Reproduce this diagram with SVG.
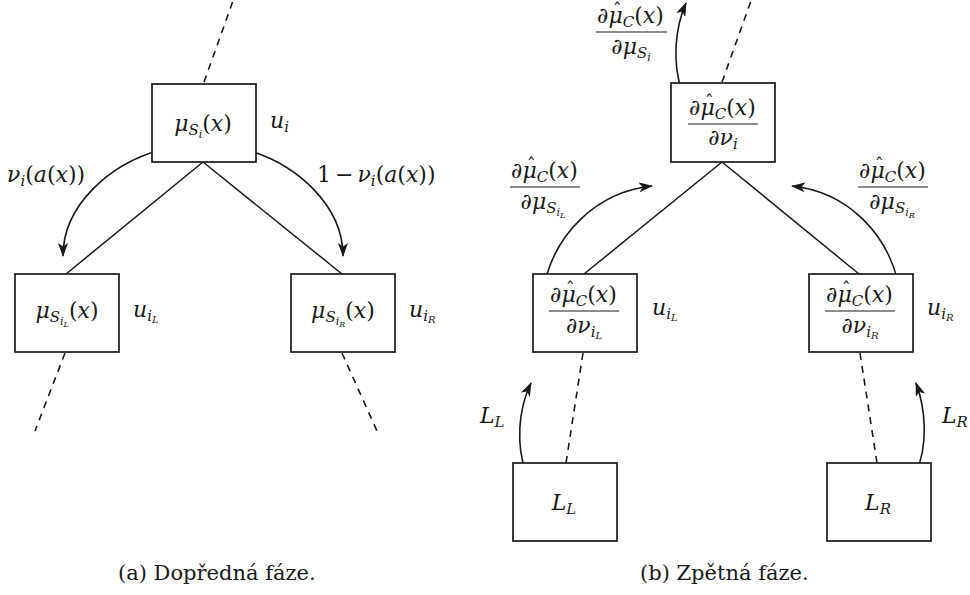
<svg xmlns="http://www.w3.org/2000/svg" width="970" height="595" viewBox="0 0 970 595">
<defs>
<style>
.box{fill:#fff;stroke:#1a1a1a;stroke-width:1.7}
.ln{stroke:#1a1a1a;stroke-width:1.5;fill:none}
.dash{stroke:#1a1a1a;stroke-width:1.6;fill:none;stroke-dasharray:7,6}
.arr{stroke:#1a1a1a;stroke-width:1.6;fill:none;marker-end:url(#ah)}
.fr{stroke:#1a1a1a;stroke-width:1}
.m{font-family:"DejaVu Serif",serif;font-style:italic;font-size:22px;fill:#1a1a1a}
.up{font-style:normal}
.s{font-size:15px}
.ss{font-size:11px}
.hat{font-style:normal;font-size:18px}
.cap{font-family:"DejaVu Serif",serif;font-size:21px;fill:#1a1a1a}
</style>
<marker id="ah" markerUnits="userSpaceOnUse" markerWidth="14" markerHeight="10" viewBox="0 0 14 10" refX="13" refY="5" orient="auto">
<path d="M0,0 L14,5 L0,10 L3.5,5 z" fill="#1a1a1a"/>
</marker>
</defs>

<g id="connectors">
<line class="ln" x1="203" y1="162" x2="66" y2="274"/>
<line class="ln" x1="203" y1="162" x2="342" y2="274"/>
<line class="dash" x1="204" y1="82" x2="234" y2="-2"/>
<line class="dash" x1="65" y1="353" x2="35" y2="431"/>
<line class="dash" x1="342" y1="353" x2="377" y2="431"/>
<path class="arr" d="M160,150 C110,164 63,205 63,256"/>
<path class="arr" d="M247,150 C296,164 343,205 343,256"/>

<line class="ln" x1="722" y1="162" x2="584" y2="274"/>
<line class="ln" x1="722" y1="162" x2="859" y2="274"/>
<line class="dash" x1="722" y1="82" x2="752" y2="-2"/>
<line class="dash" x1="583" y1="353" x2="566" y2="463"/>
<line class="dash" x1="860" y1="353" x2="877" y2="463"/>
<path class="arr" d="M682,92 C672,62 675,28 686,3"/>
<path class="arr" d="M545,282 C556,235 595,192 652,186"/>
<path class="arr" d="M898,282 C887,235 849,192 792,186"/>
<path class="arr" d="M526,473 C516,445 518,410 531,383"/>
<path class="arr" d="M916,473 C928,445 926,410 916,383"/>
</g>

<g id="node-a-top">
<rect class="box" x="152" y="84" width="104" height="78"/>
<text class="m" x="203" y="131" text-anchor="middle">μ<tspan class="s" dy="4">S</tspan><tspan class="ss" dy="3">i</tspan><tspan class="up" dy="-7">(</tspan>x<tspan class="up">)</tspan></text>
<text class="m" x="270" y="128">u<tspan class="s" dy="4">i</tspan></text>
</g>
<g id="label-a-left">
<text class="m" x="7" y="182">ν<tspan class="s" dy="4">i</tspan><tspan class="up" dy="-4">(</tspan>a<tspan class="up">(</tspan>x<tspan class="up">))</tspan></text>
</g>
<g id="label-a-right">
<text class="m" x="317" y="182"><tspan class="up">1</tspan><tspan class="up" dx="4">−</tspan><tspan dx="4">ν</tspan><tspan class="s" dy="4">i</tspan><tspan class="up" dy="-4">(</tspan>a<tspan class="up">(</tspan>x<tspan class="up">))</tspan></text>
</g>
<g id="node-a-left">
<rect class="box" x="15" y="274" width="104" height="78"/>
<text class="m" x="67" y="318" text-anchor="middle">μ<tspan class="s" dy="4">S</tspan><tspan class="ss" dy="3">i</tspan><tspan font-size="8" dy="2">L</tspan><tspan class="up" dy="-9">(</tspan>x<tspan class="up">)</tspan></text>
<text class="m" x="133" y="317">u<tspan class="s" dy="4">i</tspan><tspan font-size="10" dy="2">L</tspan></text>
</g>
<g id="node-a-right">
<rect class="box" x="291" y="274" width="104" height="78"/>
<text class="m" x="343" y="318" text-anchor="middle">μ<tspan class="s" dy="4">S</tspan><tspan class="ss" dy="3">i</tspan><tspan font-size="8" dy="2">R</tspan><tspan class="up" dy="-9">(</tspan>x<tspan class="up">)</tspan></text>
<text class="m" x="409" y="317">u<tspan class="s" dy="4">i</tspan><tspan font-size="10" dy="2">R</tspan></text>
</g>

<g id="label-b-top">
<text class="m" x="597" y="23">∂μ<tspan class="hat" dx="-10" dy="-6">ˆ</tspan><tspan class="s" dx="1" dy="10">C</tspan><tspan class="up" dy="-4">(</tspan>x<tspan class="up">)</tspan></text>
<line class="fr" x1="596" y1="32" x2="667" y2="32"/>
<text class="m" x="631" y="54" text-anchor="middle">∂μ<tspan class="s" dy="4">S</tspan><tspan class="ss" dy="3">i</tspan></text>
</g>
<g id="node-b-top">
<rect class="box" x="671" y="83" width="104" height="79"/>
<text class="m" x="689" y="115">∂μ<tspan class="hat" dx="-10" dy="-6">ˆ</tspan><tspan class="s" dx="1" dy="10">C</tspan><tspan class="up" dy="-4">(</tspan>x<tspan class="up">)</tspan></text>
<line class="fr" x1="688" y1="124" x2="758" y2="124"/>
<text class="m" x="723" y="145" text-anchor="middle">∂ν<tspan class="s" dy="4">i</tspan></text>
</g>
<g id="label-b-left">
<text class="m" x="511" y="178">∂μ<tspan class="hat" dx="-10" dy="-6">ˆ</tspan><tspan class="s" dx="1" dy="10">C</tspan><tspan class="up" dy="-4">(</tspan>x<tspan class="up">)</tspan></text>
<line class="fr" x1="510" y1="187" x2="580" y2="187"/>
<text class="m" x="543" y="209" text-anchor="middle">∂μ<tspan class="s" dy="4">S</tspan><tspan class="ss" dy="3">i</tspan><tspan font-size="8" dy="2">L</tspan></text>
</g>
<g id="label-b-right">
<text class="m" x="859" y="178">∂μ<tspan class="hat" dx="-10" dy="-6">ˆ</tspan><tspan class="s" dx="1" dy="10">C</tspan><tspan class="up" dy="-4">(</tspan>x<tspan class="up">)</tspan></text>
<line class="fr" x1="858" y1="187" x2="928" y2="187"/>
<text class="m" x="892" y="209" text-anchor="middle">∂μ<tspan class="s" dy="4">S</tspan><tspan class="ss" dy="3">i</tspan><tspan font-size="8" dy="2">R</tspan></text>
</g>
<g id="node-b-left">
<rect class="box" x="533" y="274" width="104" height="78"/>
<text class="m" x="550" y="302">∂μ<tspan class="hat" dx="-10" dy="-6">ˆ</tspan><tspan class="s" dx="1" dy="10">C</tspan><tspan class="up" dy="-4">(</tspan>x<tspan class="up">)</tspan></text>
<line class="fr" x1="549" y1="311" x2="619" y2="311"/>
<text class="m" x="584" y="333" text-anchor="middle">∂ν<tspan class="s" dy="4">i</tspan><tspan font-size="10" dy="2">L</tspan></text>
<text class="m" x="652" y="315">u<tspan class="s" dy="4">i</tspan><tspan font-size="10" dy="2">L</tspan></text>
</g>
<g id="node-b-right">
<rect class="box" x="809" y="274" width="104" height="78"/>
<text class="m" x="826" y="302">∂μ<tspan class="hat" dx="-10" dy="-6">ˆ</tspan><tspan class="s" dx="1" dy="10">C</tspan><tspan class="up" dy="-4">(</tspan>x<tspan class="up">)</tspan></text>
<line class="fr" x1="825" y1="311" x2="895" y2="311"/>
<text class="m" x="860" y="333" text-anchor="middle">∂ν<tspan class="s" dy="4">i</tspan><tspan font-size="10" dy="2">R</tspan></text>
<text class="m" x="927" y="315">u<tspan class="s" dy="4">i</tspan><tspan font-size="10" dy="2">R</tspan></text>
</g>
<g id="node-b-LL">
<rect class="box" x="513" y="463" width="104" height="78"/>
<text class="m" x="564" y="510" text-anchor="middle">L<tspan class="s" dy="4">L</tspan></text>
</g>
<g id="node-b-LR">
<rect class="box" x="827" y="463" width="104" height="78"/>
<text class="m" x="878" y="510" text-anchor="middle">L<tspan class="s" dy="4">R</tspan></text>
</g>
<g id="label-b-LL">
<text class="m" x="480" y="423">L<tspan class="s" dy="4">L</tspan></text>
</g>
<g id="label-b-LR">
<text class="m" x="942" y="423">L<tspan class="s" dy="4">R</tspan></text>
</g>

<g id="captions">
<text class="cap" x="118" y="580">(a) Dopředná fáze.</text>
<text class="cap" x="640" y="580">(b) Zpětná fáze.</text>
</g>
</svg>
